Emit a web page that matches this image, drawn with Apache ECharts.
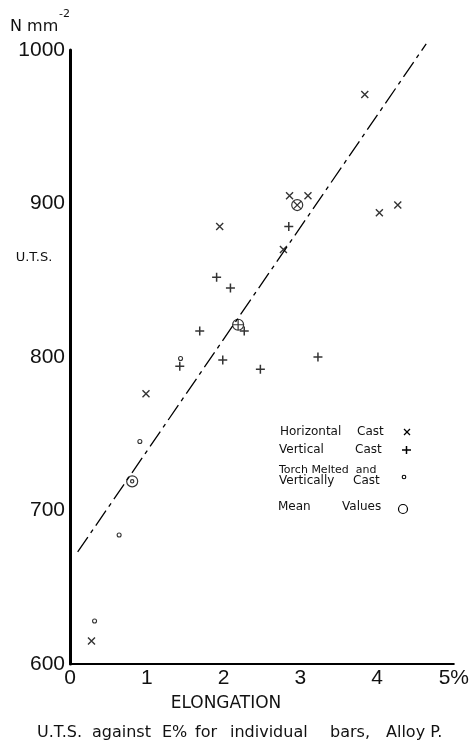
<!DOCTYPE html>
<html>
<head>
<meta charset="utf-8">
<script src="https://cdn.jsdelivr.net/npm/echarts@6/dist/echarts.min.js"></script>
<style>
html,body{margin:0;padding:0;background:#fff;}
#chart{width:472px;height:746px;}
</style>
</head>
<body>
<div id="chart"></div>
<script>
// ---- data ----
const horizontalE   = [0.28, 0.99, 1.95, 2.78, 2.86, 3.10, 3.84, 4.03, 4.27];
const horizontalUTS = [615, 776, 885, 870, 905, 905, 971, 894, 899];
const verticalE     = [1.43, 1.69, 1.91, 2.09, 1.99, 2.27, 2.48, 2.85, 3.23];
const verticalUTS   = [794, 817, 852, 845, 798, 817, 792, 885, 800];
const torchE        = [0.32, 0.64, 0.91, 1.44];
const torchUTS      = [628, 684, 745, 799];
const meanE         = [0.81, 2.19, 2.96];
const meanUTS       = [719, 821, 899];
const meanGroup     = ['torch', 'vertical', 'horizontal'];
const fitE          = [0.10, 4.64];
const fitUTS        = [673, 1004];
const xTicks        = ['0', '1', '2', '3', '4', '5%'];
const yTicks        = ['600', '700', '800', '900', '1000'];
const captionWords  = ['U.T.S.', 'against', 'E%', 'for', 'individual', 'bars,', 'Alloy P.'];

const pairs = (xs, ys) => xs.map((x, i) => [x, ys[i]]);

const TICKFONT = '"Liberation Sans", "DejaVu Sans", sans-serif';
const FONT = '"DejaVu Sans", "Liberation Sans", sans-serif';

const SYM_X = 'path://M0,0L10,10M10,0L0,10';
const SYM_PLUS = 'path://M5,0L5,10M0,5L10,5';
const CIRCLE = 'M0,10A10,10 0 1,1 20,10A10,10 0 1,1 0,10Z';
const meanInner = {
  horizontal: 'M3.5,3.5L16.5,16.5M16.5,3.5L3.5,16.5',
  vertical: 'M10,0L10,20M0,10L20,10',
  torch: 'M7,10A3,3 0 1,1 13,10A3,3 0 1,1 7,10Z'
};

const strokeStyle = w => ({ color: 'transparent', borderColor: '#000', borderWidth: w });

// caption word positions (left edges, px)
const captionX = [37, 92, 162, 195, 230, 330, 386];
const captionGraphics = captionWords.map((w, i) => ({
  type: 'text', x: captionX[i], y: 733,
  style: { text: w, font: '16px ' + FONT, fill: '#111', textVerticalAlign: 'middle' }
}));

const chart = echarts.init(document.getElementById('chart'));
chart.setOption({
  animation: false,
  backgroundColor: '#fff',
  grid: { left: 70, right: 17, top: 50, bottom: 82 },
  xAxis: {
    type: 'value', min: 0, max: 5, interval: 1,
    axisLine: { show: true, lineStyle: { color: '#000', width: 2 } },
    axisTick: { show: false },
    splitLine: { show: false },
    axisLabel: {
      color: '#111', fontSize: 21, fontFamily: TICKFONT, margin: 4,
      formatter: (v) => xTicks[Math.round(v)]
    }
  },
  yAxis: {
    type: 'value', min: 600, max: 1000, interval: 100,
    axisLine: { show: true, lineStyle: { color: '#000', width: 3 } },
    axisTick: { show: false },
    splitLine: { show: false },
    axisLabel: {
      color: '#111', fontSize: 21, fontFamily: TICKFONT, margin: 5,
      formatter: (v) => yTicks[Math.round((v - 600) / 100)]
    }
  },
  series: [
    {
      type: 'line', data: pairs(fitE, fitUTS), symbol: 'none', clip: false, silent: true,
      lineStyle: { color: '#000', width: 1.3, type: [18, 5, 4, 5] }
    },
    {
      name: 'Horizontal Cast', type: 'scatter', data: pairs(horizontalE, horizontalUTS),
      symbol: SYM_X, symbolSize: 7, itemStyle: strokeStyle(1.4)
    },
    {
      name: 'Vertical Cast', type: 'scatter', data: pairs(verticalE, verticalUTS),
      symbol: SYM_PLUS, symbolSize: 9, itemStyle: strokeStyle(1.5)
    },
    {
      name: 'Torch Melted and Vertically Cast', type: 'scatter', data: pairs(torchE, torchUTS),
      symbol: 'circle', symbolSize: 4, itemStyle: strokeStyle(1.1)
    },
    {
      name: 'Mean Values', type: 'scatter',
      data: meanE.map((x, i) => ({ value: [x, meanUTS[i]], symbol: 'path://' + CIRCLE + ' ' + meanInner[meanGroup[i]] })),
      symbolSize: 11, itemStyle: strokeStyle(1.2)
    }
  ],
  graphic: [
    { type: 'text', x: 10, y: 27, style: { text: 'N mm', font: '16px ' + FONT, fill: '#111', textVerticalAlign: 'middle' } },
    { type: 'text', x: 59, y: 14, style: { text: '-2', font: '11px ' + FONT, fill: '#111', textVerticalAlign: 'middle' } },
    { type: 'text', x: 34, y: 258, style: { text: 'U.T.S.', font: '13px ' + FONT, fill: '#111', textAlign: 'center', textVerticalAlign: 'middle' } },
    { type: 'text', x: 226, y: 704, style: { text: 'ELONGATION', font: '17px ' + FONT, fill: '#111', textAlign: 'center', textVerticalAlign: 'middle' } },
    ...captionGraphics,
    // legend
    { type: 'text', x: 280, y: 432, style: { text: 'Horizontal', font: '12px ' + FONT, fill: '#111', textVerticalAlign: 'middle' } },
    { type: 'text', x: 357, y: 432, style: { text: 'Cast', font: '12px ' + FONT, fill: '#111', textVerticalAlign: 'middle' } },
    { type: 'text', x: 279, y: 450, style: { text: 'Vertical', font: '12px ' + FONT, fill: '#111', textVerticalAlign: 'middle' } },
    { type: 'text', x: 355, y: 450, style: { text: 'Cast', font: '12px ' + FONT, fill: '#111', textVerticalAlign: 'middle' } },
    { type: 'text', x: 279, y: 470, style: { text: 'Torch Melted  and', font: '11px ' + FONT, fill: '#111', textVerticalAlign: 'middle' } },
    { type: 'text', x: 279, y: 481, style: { text: 'Vertically', font: '12px ' + FONT, fill: '#111', textVerticalAlign: 'middle' } },
    { type: 'text', x: 353, y: 481, style: { text: 'Cast', font: '12px ' + FONT, fill: '#111', textVerticalAlign: 'middle' } },
    { type: 'text', x: 278, y: 507, style: { text: 'Mean', font: '12px ' + FONT, fill: '#111', textVerticalAlign: 'middle' } },
    { type: 'text', x: 342, y: 507, style: { text: 'Values', font: '12px ' + FONT, fill: '#111', textVerticalAlign: 'middle' } },
    { type: 'line', shape: { x1: 404, y1: 429, x2: 410, y2: 435 }, style: { stroke: '#000', lineWidth: 1.3 } },
    { type: 'line', shape: { x1: 410, y1: 429, x2: 404, y2: 435 }, style: { stroke: '#000', lineWidth: 1.3 } },
    { type: 'line', shape: { x1: 402, y1: 450, x2: 411, y2: 450 }, style: { stroke: '#000', lineWidth: 1.5 } },
    { type: 'line', shape: { x1: 406.5, y1: 446, x2: 406.5, y2: 454 }, style: { stroke: '#000', lineWidth: 1.5 } },
    { type: 'circle', shape: { cx: 404, cy: 477, r: 1.8 }, style: { fill: 'none', stroke: '#000', lineWidth: 1.1 } },
    { type: 'circle', shape: { cx: 403, cy: 509, r: 4.5 }, style: { fill: 'none', stroke: '#000', lineWidth: 1.2 } }
  ]
});
</script>
</body>
</html>
